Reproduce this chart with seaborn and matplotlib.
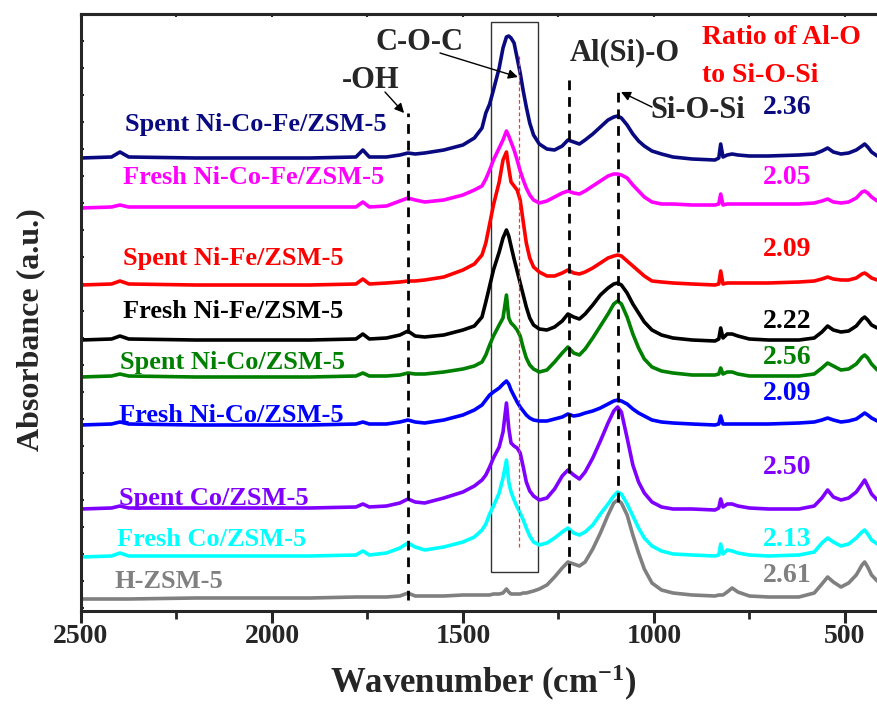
import numpy as np
import pandas as pd
import matplotlib
matplotlib.use("Agg")
import matplotlib.pyplot as plt
import seaborn as sns
from matplotlib.patches import Rectangle

# ---------------- data (stacked a.u.) ----------------
wavenumber = [2500, 2420, 2398, 2375, 2200, 1900, 1780, 1762, 1745, 1700,
              1665, 1644, 1625, 1600, 1550, 1500, 1470, 1450, 1440, 1430,
              1420, 1405, 1395, 1386, 1380, 1374, 1366, 1358, 1350, 1342,
              1334, 1325, 1315, 1300, 1280, 1260, 1240, 1225, 1210, 1195,
              1180, 1160, 1140, 1120, 1105, 1095, 1085, 1070, 1055, 1040,
              1025, 1005, 980, 950, 900, 840, 830, 825, 819, 808,
              795, 780, 750, 700, 620, 580, 560, 545, 530, 510,
              490, 470, 455, 448, 440, 430, 415]

spent_nicofe = [453, 454, 459, 454, 453, 453, 454, 461, 454, 454,
                456, 458, 457, 458, 461, 466, 473, 483, 498, 507,
                521, 543, 563, 574, 575, 573, 568, 553, 538, 520,
                504, 488, 476, 467, 462, 461, 465, 471, 469, 467,
                471, 477, 484, 491, 494, 495, 493, 486, 477, 470,
                465, 460, 457, 454, 452, 451, 453, 467, 454, 456,
                457, 456, 455, 455, 456, 457, 460, 463, 459, 457,
                458, 461, 465, 467, 464, 459, 455]

fresh_nicofe = [403, 404, 406, 404, 404, 404, 404, 409, 404, 405,
                410, 413, 411, 409, 411, 416, 421, 425, 432, 441,
                451, 463, 471, 480, 475, 469, 461, 451, 440, 431,
                423, 416, 411, 408, 410, 414, 418, 420, 418, 417,
                420, 425, 430, 435, 437, 437, 436, 433, 426, 420,
                414, 409, 407, 407, 406, 406, 407, 417, 406, 407,
                407, 407, 407, 407, 407, 408, 410, 412, 409, 408,
                409, 413, 419, 420, 418, 414, 410]

spent_nife = [326, 327, 330, 327, 326, 326, 327, 332, 327, 328,
              329, 330, 330, 331, 334, 341, 347, 356, 368, 387,
              406, 429, 451, 459, 443, 429, 425, 421, 411, 389,
              368, 353, 344, 339, 335, 335, 338, 341, 338, 337,
              339, 343, 348, 353, 355, 356, 355, 350, 345, 340,
              335, 330, 329, 328, 327, 326, 327, 340, 327, 328,
              328, 328, 328, 328, 329, 330, 332, 334, 332, 331,
              331, 333, 337, 338, 336, 333, 331]

fresh_nife = [271, 272, 275, 272, 271, 271, 272, 277, 272, 273,
              276, 280, 275, 274, 276, 281, 285, 294, 309, 325,
              341, 359, 373, 381, 375, 365, 352, 340, 328, 316,
              304, 293, 286, 282, 281, 284, 290, 297, 294, 292,
              297, 306, 316, 323, 327, 328, 326, 318, 307, 298,
              289, 281, 276, 273, 271, 270, 272, 283, 273, 277,
              277, 275, 272, 271, 271, 273, 279, 285, 281, 279,
              280, 285, 292, 294, 291, 286, 283]

spent_nico = [234, 235, 237, 235, 234, 234, 235, 238, 235, 235,
              236, 238, 237, 237, 239, 242, 245, 249, 256, 266,
              275, 286, 293, 316, 293, 288, 285, 281, 275, 263,
              253, 246, 242, 239, 241, 249, 258, 264, 258, 256,
              262, 273, 285, 297, 307, 310, 307, 294, 277, 263,
              252, 244, 240, 238, 236, 236, 237, 243, 237, 239,
              239, 237, 235, 235, 235, 237, 243, 248, 245, 241,
              242, 247, 254, 256, 253, 247, 241]

fresh_nico = [186, 187, 189, 187, 186, 186, 187, 189, 187, 187,
              189, 191, 189, 188, 191, 196, 201, 206, 211, 216,
              219, 223, 227, 230, 227, 221, 215, 209, 204, 200,
              196, 193, 191, 190, 190, 192, 194, 197, 195, 196,
              198, 200, 203, 207, 210, 211, 210, 207, 202, 198,
              195, 191, 189, 188, 187, 186, 187, 195, 187, 187,
              187, 187, 187, 187, 188, 189, 191, 193, 191, 189,
              190, 192, 196, 198, 196, 193, 190]

spent_co = [102, 103, 105, 103, 103, 103, 104, 107, 104, 105,
            108, 112, 109, 108, 113, 119, 125, 131, 136, 144,
            153, 164, 179, 208, 183, 168, 165, 163, 158, 144,
            129, 120, 115, 111, 113, 122, 135, 141, 136, 132,
            139, 153, 170, 188, 200, 204, 199, 173, 146, 129,
            118, 109, 104, 102, 102, 101, 103, 112, 104, 107,
            107, 105, 103, 102, 102, 105, 113, 121, 114, 111,
            113, 119, 127, 131, 125, 117, 111]

fresh_co = [54, 55, 58, 55, 55, 55, 56, 60, 56, 58,
            63, 68, 64, 61, 64, 69, 74, 81, 87, 97,
            105, 118, 133, 151, 129, 119, 111, 104, 98, 91,
            83, 75, 69, 66, 68, 73, 79, 83, 78, 76,
            79, 86, 97, 107, 115, 119, 117, 107, 95, 83,
            73, 65, 60, 57, 56, 55, 56, 67, 57, 61,
            60, 58, 56, 55, 56, 59, 68, 73, 69, 65,
            67, 73, 79, 81, 77, 71, 67]

h_zsm5 = [12, 12, 12, 12, 13, 13, 14, 14, 14, 14,
          15, 18, 15, 15, 15, 16, 16, 16, 16, 16,
          17, 17, 18, 22, 19, 17, 17, 17, 17, 18,
          18, 19, 20, 22, 26, 34, 43, 49, 47, 45,
          49, 62, 78, 96, 108, 111, 108, 96, 76, 58,
          42, 28, 21, 18, 16, 15, 16, 16, 16, 19,
          23, 19, 15, 14, 14, 18, 27, 34, 29, 24,
          28, 36, 46, 49, 44, 36, 30]

samples = ["Spent Ni-Co-Fe/ZSM-5", "Fresh Ni-Co-Fe/ZSM-5", "Spent Ni-Fe/ZSM-5",
           "Fresh Ni-Fe/ZSM-5", "Spent Ni-Co/ZSM-5", "Fresh Ni-Co/ZSM-5",
           "Spent Co/ZSM-5", "Fresh Co/ZSM-5", "H-ZSM-5"]
ratios = ["2.36", "2.05", "2.09", "2.22", "2.56", "2.09", "2.50", "2.13", "2.61"]
colors = ["#0A0A80", "#FF00FF", "#FF0000", "#000000", "#008000",
          "#0000FF", "#8000FF", "#00FFFF", "#808080"]

series = [spent_nicofe, fresh_nicofe, spent_nife, fresh_nife, spent_nico,
          fresh_nico, spent_co, fresh_co, h_zsm5]

# ---------------- figure ----------------
sns.set_style("ticks")
plt.rcParams["font.family"] = ["Liberation Serif", "DejaVu Serif"]
plt.rcParams["font.weight"] = "bold"
plt.rcParams["mathtext.fontset"] = "custom"
plt.rcParams["mathtext.rm"] = "Liberation Serif:bold"
plt.rcParams["mathtext.it"] = "Liberation Serif:bold"
plt.rcParams["mathtext.bf"] = "Liberation Serif:bold"

df = pd.DataFrame({"wavenumber": wavenumber})
for name, vals in zip(samples, series):
    df[name] = vals
long = df.melt(id_vars="wavenumber", var_name="sample", value_name="absorbance")

fig = plt.figure(figsize=(8.77, 7.05), dpi=100)
ax = fig.add_axes([81 / 877, 94 / 705, 802 / 877, 597 / 705])

sns.lineplot(data=long, x="wavenumber", y="absorbance", hue="sample",
             hue_order=samples, palette=dict(zip(samples, colors)),
             estimator=None, sort=False, lw=2.6, legend=False, ax=ax,
             solid_joinstyle="round", solid_capstyle="round")

ax.set_xlim(2500, 400)
ax.set_ylim(0, 597)

# sample names (left) and ratio values (right)
name_pos = [(2385, 487), (2390, 433), (2390, 353), (2390, 299), (2398, 248),
            (2400, 196), (2400, 113), (2406, 71), (2411, 29)]
ratio_pos = [503, 433, 361, 289, 253, 218, 144, 71, 35]
for name, col, (x, y), ry, r in zip(samples, colors, name_pos, ratio_pos, ratios):
    ax.text(x, y, name, color=col, fontsize=19, fontweight="bold",
            ha="left", va="center")
    ax.text(652, ry, r, color=col, fontsize=20, fontweight="bold",
            ha="center", va="center")

ax.text(874, 574, "Ratio of Al-O", color="#FF0000", fontsize=20,
        fontweight="bold", ha="left", va="center")
ax.text(874, 536, "to Si-O-Si", color="#FF0000", fontsize=20,
        fontweight="bold", ha="left", va="center")

# band annotations
ax.text(1613, 568, "C-O-C", fontsize=22, fontweight="bold", ha="center", va="center")
ax.text(1741, 531, "-OH", fontsize=22, fontweight="bold", ha="center", va="center")
ax.text(1076, 558, "Al(Si)-O", fontsize=22, fontweight="bold", ha="center", va="center")
ax.text(885, 501, "Si-O-Si", fontsize=22, fontweight="bold", ha="center", va="center")

dash = (0, (3.5, 2.5))
ax.plot([1644, 1644], [11, 498], color="black", lw=2.0, ls=dash)
ax.plot([1223, 1223], [38, 538], color="black", lw=2.0, ls=dash)
ax.plot([1095, 1095], [109, 523], color="black", lw=2.0, ls=dash)
ax.plot([1353, 1353], [64, 555], color="#FF3030", lw=0.9, ls=(0, (3, 2)))
ax.add_patch(Rectangle((1427, 39), 1304 - 1427, 589 - 39, fill=False,
                       lw=1.0, edgecolor="#333333"))

arrow = dict(arrowstyle="-|>", lw=1.0, color="black", mutation_scale=14,
             shrinkA=0, shrinkB=0)
ax.annotate("", xy=(1356, 534), xytext=(1560, 558), arrowprops=arrow)
ax.annotate("", xy=(1654, 498), xytext=(1704, 519), arrowprops=arrow)
ax.annotate("", xy=(1086, 519), xytext=(1005, 504), arrowprops=arrow)

# axes styling
ax.set_xticks([2500, 2000, 1500, 1000, 500])
ax.set_xticks([2250, 1750, 1250, 750], minor=True)
ax.set_yticks(np.arange(3, 597, 27))
ax.set_yticklabels([])
ax.tick_params(axis="x", which="major", direction="out", length=8.5, width=2.2,
               labelsize=20, pad=1)
ax.tick_params(axis="x", which="minor", direction="out", length=5.5, width=2.0)
ax.tick_params(axis="y", which="major", direction="in", length=2.5, width=1.5)
for sp in ax.spines.values():
    sp.set_linewidth(2.2)

top = ax.secondary_xaxis("top")
top.set_xticks([2500, 2250, 2000, 1750, 1500, 1250, 1000, 750, 500])
top.set_xticklabels([])
top.tick_params(direction="in", length=2.5, width=1.5)
top.spines["top"].set_linewidth(2.2)

ax.set_xlabel("Wavenumber (cm$^{-1}$)", fontsize=25, fontweight="bold")
ax.set_ylabel("Absorbance (a.u.)", fontsize=23, fontweight="bold")
ax.xaxis.set_label_coords(0.502, -0.087)
ax.yaxis.set_label_coords(-0.045, 0.472)

fig.savefig("out.png", dpi=100)
